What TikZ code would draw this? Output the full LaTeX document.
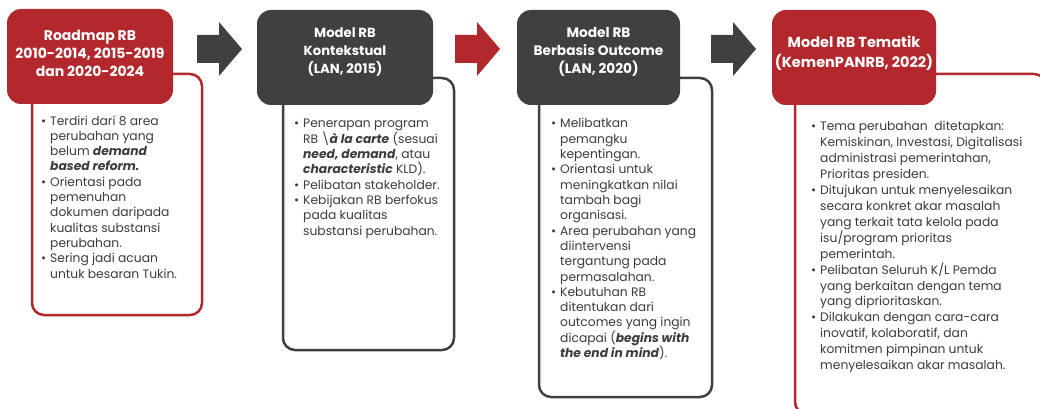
\documentclass[tikz,border=0pt]{standalone}
\usepackage{fontspec}
\setmainfont{Poppins}
\definecolor{rbred}{HTML}{B3282D}
\definecolor{rbdark}{HTML}{404040}
\definecolor{rbtext}{HTML}{3C3C3C}
\newcommand\bitem[1]{\par\noindent\llap{\makebox[9pt][l]{\textbullet}}#1}
\newcommand\bi[1]{\textbf{\textit{#1}}}
\newenvironment{blist}[2][15.3]{\begin{minipage}[t]{#2}\fontsize{12.3}{#1}\selectfont\parindent=0pt\parskip=0pt\leftskip=9pt\relax}{\end{minipage}}
\begin{document}
\begin{tikzpicture}[x=1pt,y=-1pt,
  hdr/.style={inner sep=0pt, text=white, align=center},
  hfont/.style={font=\fontsize{#1}{18}\selectfont\bfseries},
  outl/.style={rounded corners=12pt, line width=2.5pt, fill=white},
  body/.style={anchor=base west, inner sep=0pt, text=rbtext}
]
\clip (0,0) rectangle (1040,409);
\fill[white] (0,0) rectangle (1040,409);

% outline boxes
\draw[outl, draw=rbred] (32,74) rectangle (202,315);
\draw[outl, draw=rbdark] (283,78) rectangle (454,350);
\draw[outl, draw=rbdark] (539,78) rectangle (712,397);
\draw[outl, draw=rbred] (795,74) rectangle (1046,414);

% headers
\path[fill=rbred, rounded corners=14pt] (7,9) rectangle (173,104);
\path[fill=rbdark, rounded corners=14pt] (257,10) rectangle (433,105);
\path[fill=rbdark, rounded corners=14pt] (517,10) rectangle (680,105);
\path[fill=rbred, rounded corners=14pt] (772,10) rectangle (936,105);

\node[hdr, hfont=14] (h1) at (90,53) {Roadmap RB\\2010-2014, 2015-2019\\dan 2020-2024};
\node[hdr, hfont=13.2] (h2) at (345,51.5) {Model RB\\Kontekstual\\(LAN, 2015)};
\node[hdr, hfont=13.7] (h3) at (598.5,52) {Model RB\\Berbasis Outcome\\(LAN, 2020)};
\node[hdr, font=\fontsize{14.5}{20}\selectfont\bfseries] (h4) at (854,53) {Model RB Tematik\\(KemenPANRB, 2022)};

% block arrows
\fill[rbdark] (197,35) -- (219,35) -- (219,22) -- (242,49) -- (219,76) -- (219,63) -- (197,63) -- cycle;
\fill[rbred] (455,35) -- (477,35) -- (477,22) -- (500,49) -- (477,76) -- (477,63) -- (455,63) -- cycle;
\fill[rbdark] (711,35) -- (733,35) -- (733,22) -- (756,49) -- (733,76) -- (733,63) -- (711,63) -- cycle;

% body texts
\node[body] (t1) at (41,125) {\begin{blist}{165pt}%
\bitem{Terdiri dari 8 area\newline perubahan yang\newline belum \bi{demand}\newline \bi{based reform.}}
\bitem{Orientasi pada\newline pemenuhan\newline dokumen daripada\newline kualitas substansi\newline perubahan.}
\bitem{Sering jadi acuan\newline untuk besaran Tukin.}\end{blist}};

\node[body] (t2) at (294,128) {\begin{blist}{170pt}%
\bitem{Penerapan program\newline RB \textbackslash\bi{à la carte} (sesuai\newline \bi{need, demand}, atau\newline \bi{characteristic} KLD).}
\bitem{Pelibatan stakeholder.}
\bitem{Kebijakan RB berfokus\newline pada kualitas\newline substansi perubahan.}\end{blist}};

\node[body] (t3) at (551,128) {\begin{blist}{170pt}%
\bitem{Melibatkan\newline pemangku\newline kepentingan.}
\bitem{Orientasi untuk\newline meningkatkan nilai\newline tambah bagi\newline organisasi.}
\bitem{Area perubahan yang\newline diintervensi\newline tergantung pada\newline permasalahan.}
\bitem{Kebutuhan RB\newline ditentukan dari\newline outcomes yang ingin\newline dicapai (\bi{begins with}\newline \bi{the end in mind}).}\end{blist}};

\node[body] (t4) at (811,131) {\begin{blist}[15.9]{235pt}%
\bitem{Tema perubahan\ \ ditetapkan:\newline Kemiskinan, Investasi, Digitalisasi\newline administrasi pemerintahan,\newline Prioritas presiden.}
\bitem{Ditujukan untuk menyelesaikan\newline secara konkret akar masalah\newline yang terkait tata kelola pada\newline isu/program prioritas\newline pemerintah.}
\bitem{Pelibatan Seluruh K/L Pemda\newline yang berkaitan dengan tema\newline yang diprioritaskan.}
\bitem{Dilakukan dengan cara-cara\newline inovatif, kolaboratif, dan\newline komitmen pimpinan untuk\newline menyelesaikan akar masalah.}\end{blist}};
\end{tikzpicture}
\end{document}
